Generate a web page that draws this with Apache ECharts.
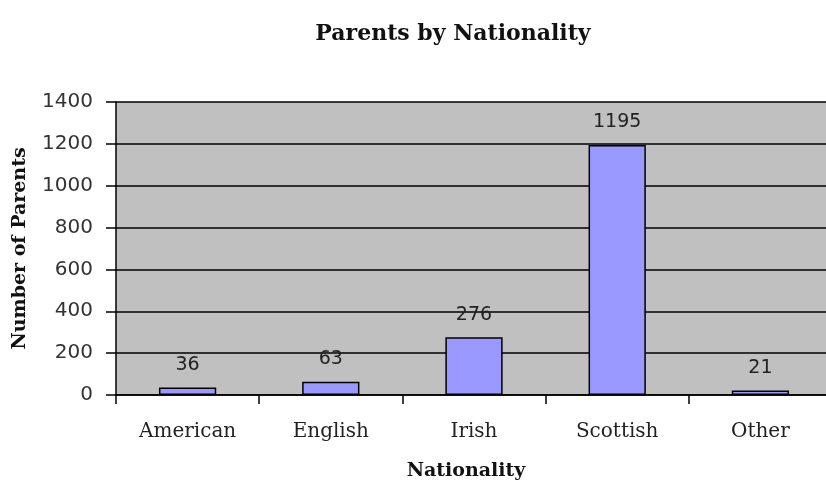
<!DOCTYPE html>
<html><head><meta charset="utf-8">
<script src="https://cdn.jsdelivr.net/npm/echarts@6/dist/echarts.min.js"></script>
<style>html,body{margin:0;padding:0;background:#fff}#c{width:826px;height:485px}</style>
</head><body><div id="c"></div>
<script>
const categories = ["American", "English", "Irish", "Scottish", "Other"];
const values = [36, 63, 276, 1195, 21];
const yTicks = [0, 200, 400, 600, 800, 1000, 1200, 1400];

const chart = echarts.init(document.getElementById('c'));
chart.setOption({
  backgroundColor: '#ffffff',
  animation: false,
  title: {
    text: 'Parents by Nationality',
    left: 448, top: 18, textAlign: 'center',
    textStyle: {fontFamily: 'DejaVu Serif', fontWeight: 'bold', fontSize: 22, color: '#111'}
  },
  grid: {left: 116, right: -6, top: 102, bottom: 90, show: true, backgroundColor: '#c0c0c0', borderWidth: 0,
         containLabel: false, outerBoundsMode: 'none'},
  xAxis: {
    type: 'category', data: categories,
    name: 'Nationality', nameLocation: 'middle', nameGap: 67,
    nameTextStyle: {fontFamily: 'DejaVu Serif', fontWeight: 'bold', fontSize: 19, color: '#111', padding: [0, 0, 0, -16]},
    axisLine: {lineStyle: {color: '#000', width: 1.5}},
    axisTick: {show: true, length: 9, lineStyle: {color: '#000', width: 1.5}},
    axisLabel: {margin: 27, fontFamily: 'DejaVu Serif', fontSize: 20, color: '#222'}
  },
  yAxis: {
    type: 'value', min: yTicks[0], max: yTicks[yTicks.length - 1], interval: 200,
    name: 'Number of Parents', nameLocation: 'middle', nameGap: 86,
    nameTextStyle: {fontFamily: 'DejaVu Serif', fontWeight: 'bold', fontSize: 19, color: '#111'},
    axisLine: {show: true, lineStyle: {color: '#000', width: 1.5}},
    axisTick: {show: true, length: 10, lineStyle: {color: '#000', width: 1.5}},
    axisLabel: {margin: 23, fontFamily: 'DejaVu Sans', fontSize: 20, color: '#333', formatter: v => String(v)},
    splitLine: {show: true, lineStyle: {color: '#000', width: 1.5}}
  },
  series: [{
    type: 'bar', data: values, barWidth: '40%',
    itemStyle: {color: '#9999ff', borderColor: '#000', borderWidth: 1.5},
    label: {show: true, position: 'top', distance: 13, fontFamily: 'DejaVu Sans', fontSize: 19, color: '#222'}
  }]
});
</script></body></html>
